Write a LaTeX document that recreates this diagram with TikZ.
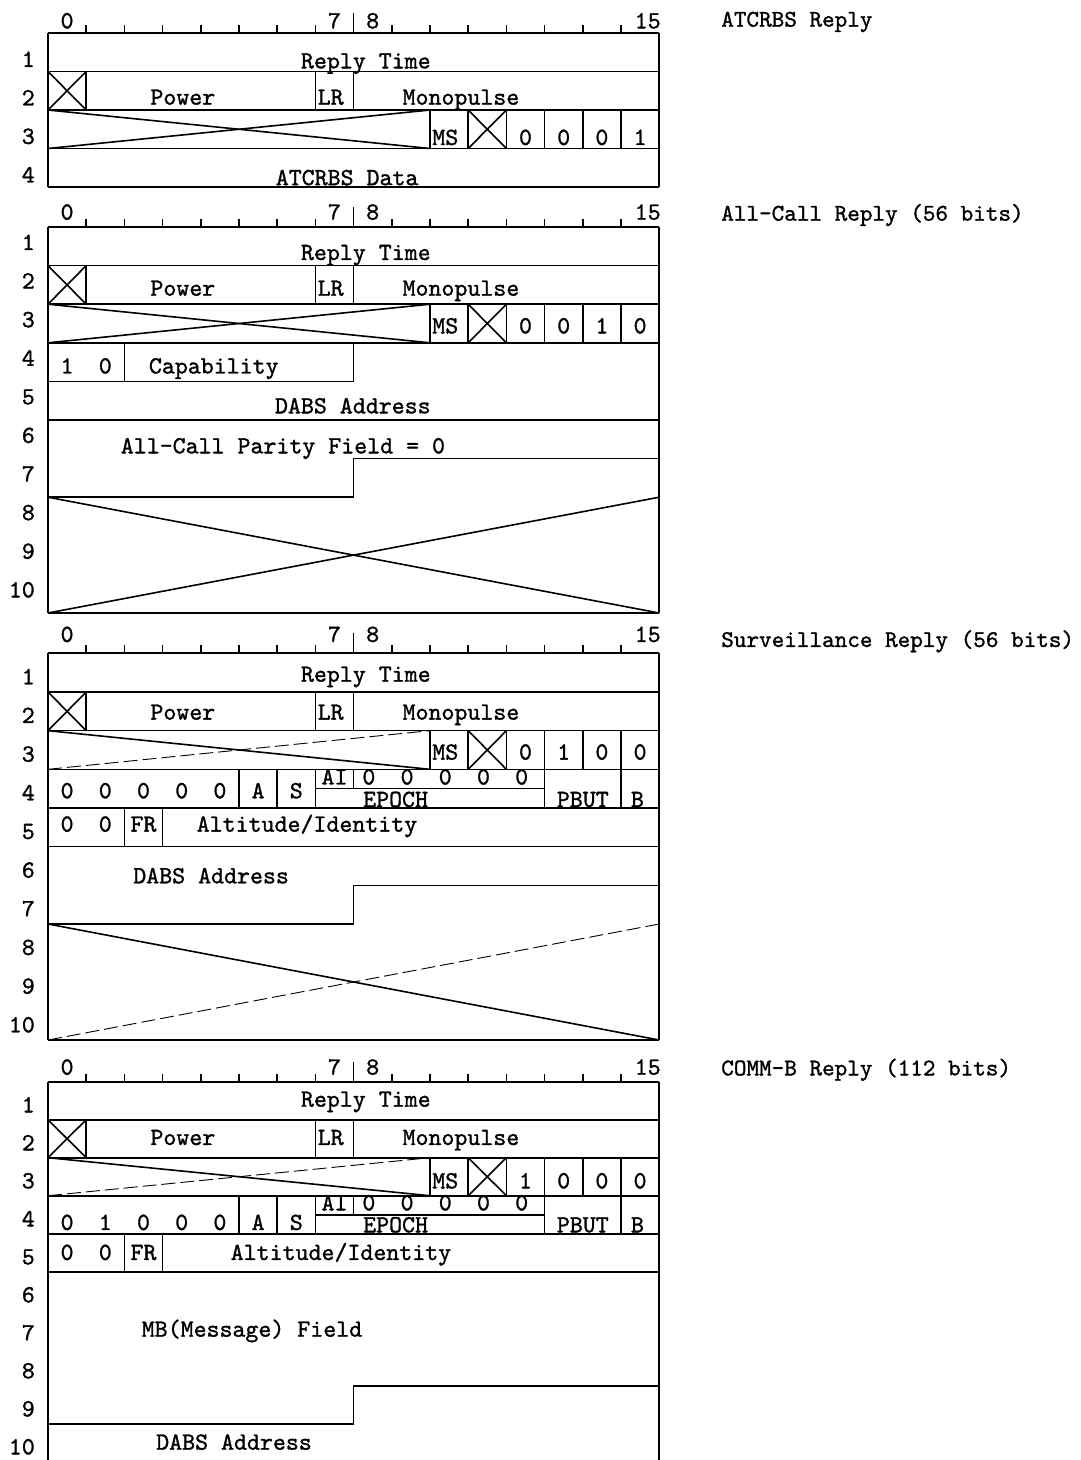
\documentclass[tikz,border=0pt]{standalone}
\usepackage{fontspec}
\newfontfamily\twfont{lmmono10-regular.otf}[FakeBold=1.2]
\tikzset{
  lab/.style={font=\twfont\fontsize{24.7}{24.7}\selectfont, inner sep=0pt, yshift=-4.5pt},
  txt/.style={lab, anchor=mid},
  rowlab/.style={lab, anchor=mid east},
  titlelab/.style={lab, font=\twfont\fontsize{24}{24}\selectfont, anchor=mid west},
  frame/.style={line width=2pt},
  div/.style={line width=1.6pt},
  faint/.style={line width=0.9pt, dash pattern=on 14pt off 5pt},
}
% common upper part: ruler, rows 1-3
\newcommand\uppart[7]{%
  \draw[frame] (0,\Ytop) -- (16,\Ytop);
  \foreach \k in {1,...,15}{\draw[div] (\k,\Ytop) -- (\k,{\Ytop-8});}
  \draw[div] (8,\Ytop) -- (8,{\Ytop-20});
  \node[txt] (#1n0) at (0.5,{\Ytop+\Yl}) {0};
  \node[txt] (#1n7) at (7.5,{\Ytop+\Yl}) {7};
  \node[txt] (#1n8) at (8.5,{\Ytop+\Yl}) {8};
  \node[txt] (#1n15) at (15.7,{\Ytop+\Yl}) {15};
  \node[titlelab] (#1title) at (17.62,{\Ytop-13}) {#2};
  \node[txt] (#1reply) at (8.32,{\Ytop+\Ya}) {Reply Time};
  \draw[div] (0,{\Ytop+\Yh}) -- (16,{\Ytop+\Yh});
  \draw[div] (0,{\Ytop+\Yh}) -- (1,{\Ytop+2*\Yh}) (0,{\Ytop+2*\Yh}) -- (1,{\Ytop+\Yh});
  \foreach \k in {1,7,8}{\draw[div] (\k,{\Ytop+\Yh}) -- (\k,{\Ytop+2*\Yh});}
  \node[txt] (#1power) at (3.53,{\Ytop+\Yh+\Yb}) {Power};
  \node[txt] (#1lr) at (7.4,{\Ytop+\Yh+\Yb}) {LR};
  \node[txt] (#1mono) at (10.81,{\Ytop+\Yh+\Yb}) {Monopulse};
  \draw[div] (0,{\Ytop+2*\Yh}) -- (16,{\Ytop+2*\Yh});
  \draw[div] (0,{\Ytop+2*\Yh}) -- (10,{\Ytop+3*\Yh});
  \draw[#7] (0,{\Ytop+3*\Yh}) -- (10,{\Ytop+2*\Yh});
  \draw[div] (11,{\Ytop+2*\Yh}) -- (12,{\Ytop+3*\Yh}) (11,{\Ytop+3*\Yh}) -- (12,{\Ytop+2*\Yh});
  \foreach \k in {10,...,15}{\draw[div] (\k,{\Ytop+2*\Yh}) -- (\k,{\Ytop+3*\Yh});}
  \node[txt] (#1ms) at (10.4,{\Ytop+2*\Yh+\Yc}) {MS};
  \node[txt] (#1b12) at (12.5,{\Ytop+2*\Yh+\Yc}) {#3};
  \node[txt] (#1b13) at (13.5,{\Ytop+2*\Yh+\Yc}) {#4};
  \node[txt] (#1b14) at (14.5,{\Ytop+2*\Yh+\Yc}) {#5};
  \node[txt] (#1b15) at (15.5,{\Ytop+2*\Yh+\Yc}) {#6};
  \draw[div] (0,{\Ytop+3*\Yh}) -- (16,{\Ytop+3*\Yh});
}
% row 4 of surveillance / comm-b replies
\newcommand\myrowfour[6]{%
  \node[txt] (#1z0) at (0.5,{\Ytop+3*\Yh+\Yd}) {#2};
  \node[txt] (#1z1) at (1.5,{\Ytop+3*\Yh+\Yd}) {#3};
  \node[txt] (#1z2) at (2.5,{\Ytop+3*\Yh+\Yd}) {#4};
  \node[txt] (#1z3) at (3.5,{\Ytop+3*\Yh+\Yd}) {#5};
  \node[txt] (#1z4) at (4.5,{\Ytop+3*\Yh+\Yd}) {#6};
  \node[txt] (#1A) at (5.5,{\Ytop+3*\Yh+\Yd}) {A};
  \node[txt] (#1S) at (6.5,{\Ytop+3*\Yh+\Yd}) {S};
  \foreach \k in {5,6,7,13,15}{\draw[div] (\k,{\Ytop+3*\Yh}) -- (\k,{\Ytop+4*\Yh});}
  \draw[div] (8,{\Ytop+3*\Yh}) -- (8,{\Ytop+3.5*\Yh});
  \draw[div] (7,{\Ytop+3.5*\Yh}) -- (13,{\Ytop+3.5*\Yh});
  \node[txt] (#1AI) at (7.5,{\Ytop+3*\Yh+\Ye}) {AI};
  \foreach \x [count=\i] in {8.4,9.4,10.4,11.4,12.4}{\node[txt] (#1e\i) at (\x,{\Ytop+3*\Yh+\Ye}) {0};}
  \node[txt] (#1epoch) at (9.1,{\Ytop+3*\Yh+\Yf}) {EPOCH};
  \node[txt] (#1pbut) at (14,{\Ytop+3*\Yh+\Yf}) {PBUT};
  \node[txt] (#1B) at (15.43,{\Ytop+3*\Yh+\Yf}) {B};
  \draw[div] (0,{\Ytop+4*\Yh}) -- (16,{\Ytop+4*\Yh});
}
% row 5 of surveillance / comm-b replies
\newcommand\myrowfive[2]{%
  \node[txt] (#1f0) at (0.5,{\Ytop+4*\Yh+\Yg}) {0};
  \node[txt] (#1f1) at (1.5,{\Ytop+4*\Yh+\Yg}) {0};
  \node[txt] (#1fr) at (2.5,{\Ytop+4*\Yh+\Yg}) {FR};
  \node[txt] (#1alt) at (#2,{\Ytop+4*\Yh+\Yg}) {Altitude/Identity};
  \foreach \k in {2,3}{\draw[div] (\k,{\Ytop+4*\Yh}) -- (\k,{\Ytop+5*\Yh});}
  \draw[div] (0,{\Ytop+5*\Yh}) -- (16,{\Ytop+5*\Yh});
}
\newcommand\myrowlabels[3]{%
  \foreach \r in {1,...,#2}{\node[rowlab] (#1r\r) at (-0.34,{\Ytop+(\r-0.5)*\Yh+(#3)}) {\r};}
}
\newcommand\mysides[1]{%
  \draw[frame] (0,\Ytop) -- (0,#1);
  \draw[frame] (16,\Ytop) -- (16,#1);
}
\begin{document}
\begin{tikzpicture}
\useasboundingbox (0pt,0pt) rectangle (1081pt,-1460pt);
\begin{scope}[x=38.2pt,y=-1pt,xshift=48pt]
% ---------------- Panel 1: ATCRBS Reply
\def\Ytop{33}\def\Yh{38.5}\def\Yl{-11.3}\def\Ya{28.7}\def\Yb{26.5}\def\Yc{28.3}
\uppart{a}{ATCRBS Reply}{0}{0}{0}{1}{div}
\node[txt] (adata) at (7.83,{\Ytop+3*\Yh+30}) {ATCRBS Data};
\draw[frame] (0,{\Ytop+4*\Yh}) -- (16,{\Ytop+4*\Yh});
\mysides{\Ytop+4*\Yh}
\myrowlabels{a}{4}{8}
% ---------------- Panel 2: All-Call Reply
\def\Ytop{227}\def\Yh{38.6}\def\Yl{-14}\def\Ya{26.3}\def\Yb{23.4}\def\Yc{22.5}
\uppart{b}{All-Call Reply (56 bits)}{0}{0}{1}{0}{div}
\node[txt] (bone) at (0.5,{\Ytop+3*\Yh+24}) {1};
\node[txt] (bzero) at (1.5,{\Ytop+3*\Yh+24}) {0};
\node[txt] (bcap) at (4.34,{\Ytop+3*\Yh+24}) {Capability};
\draw[div] (2,{\Ytop+3*\Yh}) -- (2,{\Ytop+4*\Yh});
\draw[div] (8,{\Ytop+3*\Yh}) -- (8,{\Ytop+4*\Yh});
\draw[div] (0,{\Ytop+4*\Yh}) -- (8,{\Ytop+4*\Yh});
\node[txt] (bdabs) at (7.98,{\Ytop+4*\Yh+25.3}) {DABS Address};
\draw[div] (0,{\Ytop+5*\Yh}) -- (16,{\Ytop+5*\Yh});
\node[txt] (bparity) at (6.15,{\Ytop+5*\Yh+26.7}) {All-Call Parity Field = 0};
\draw[div] (16,{\Ytop+6*\Yh}) -- (8,{\Ytop+6*\Yh}) -- (8,{\Ytop+7*\Yh}) -- (0,{\Ytop+7*\Yh});
\draw[div] (0,{\Ytop+7*\Yh}) -- (16,{\Ytop+10*\Yh});
\draw[div] (0,{\Ytop+10*\Yh}) -- (16,{\Ytop+7*\Yh});
\draw[frame] (0,{\Ytop+10*\Yh}) -- (16,{\Ytop+10*\Yh});
\mysides{\Ytop+10*\Yh}
\myrowlabels{b}{10}{-3}
% ---------------- Panel 3: Surveillance Reply
\def\Ytop{653.3}\def\Yh{38.67}\def\Yl{-18}\def\Ya{21.7}\def\Yb{21}\def\Yc{22.3}
\def\Yd{22.3}\def\Ye{8.5}\def\Yf{31}\def\Yg{17}
\uppart{c}{Surveillance Reply (56 bits)}{0}{1}{0}{0}{faint}
\myrowfour{c}{0}{0}{0}{0}{0}
\myrowfive{c}{6.78}
\node[txt] (cdabs) at (4.27,{\Ytop+5*\Yh+30}) {DABS Address};
\draw[div] (16,{\Ytop+6*\Yh}) -- (8,{\Ytop+6*\Yh}) -- (8,{\Ytop+7*\Yh}) -- (0,{\Ytop+7*\Yh});
\draw[div] (0,{\Ytop+7*\Yh}) -- (16,{\Ytop+10*\Yh});
\draw[faint] (0,{\Ytop+10*\Yh}) -- (16,{\Ytop+7*\Yh});
\draw[frame] (0,{\Ytop+10*\Yh}) -- (16,{\Ytop+10*\Yh});
\mysides{\Ytop+10*\Yh}
\myrowlabels{c}{10}{5}
% ---------------- Panel 4: COMM-B Reply
\def\Ytop{1081.7}\def\Yh{38}\def\Yl{-13.7}\def\Ya{18.3}\def\Yb{18.6}\def\Yc{24}
\def\Yd{27.6}\def\Ye{8}\def\Yf{30}\def\Yg{19.6}
\uppart{d}{COMM-B Reply (112 bits)}{1}{0}{0}{0}{faint}
\myrowfour{d}{0}{1}{0}{0}{0}
\myrowfive{d}{7.67}
\node[txt] (dmb) at (5.34,{\Ytop+5*\Yh+58.3}) {MB(Message) Field};
\draw[div] (16,{\Ytop+8*\Yh}) -- (8,{\Ytop+8*\Yh}) -- (8,{\Ytop+9*\Yh}) -- (0,{\Ytop+9*\Yh});
\node[txt] (ddabs) at (4.87,{\Ytop+9*\Yh+19.3}) {DABS Address};
\mysides{1460}
\myrowlabels{d}{10}{5}
\end{scope}
\end{tikzpicture}
\end{document}
